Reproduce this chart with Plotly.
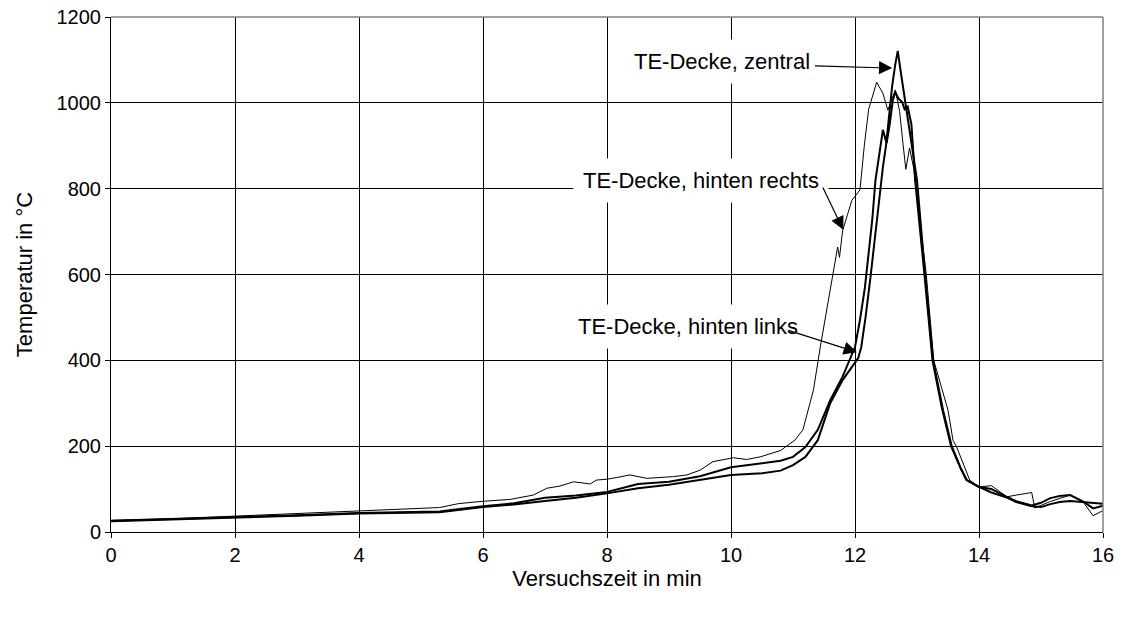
import plotly.graph_objects as go

# ---- data (time in min, temperature in °C) ----
t_zentral = [0, 1, 2, 3, 4, 5, 5.3, 6, 6.5, 7, 7.5, 8, 8.5, 9, 9.5, 10, 10.5, 10.8, 11.0, 11.2,
             11.4, 11.6, 11.8, 12.0, 12.05, 12.1, 12.17, 12.25, 12.33, 12.4, 12.45, 12.5, 12.55,
             12.6, 12.65, 12.69, 12.73, 12.8, 12.9, 13.0, 13.13, 13.26, 13.42, 13.56, 13.7, 13.8,
             14.0, 14.2, 14.45, 14.6, 14.85, 15.0, 15.15, 15.3, 15.47, 15.65, 15.84, 16.0]
y_zentral = [25, 29, 34, 38, 43, 45, 46, 58, 64, 72, 80, 90, 102, 110, 121, 133, 137, 143, 156, 175,
             214, 300, 354, 396, 405, 430, 500, 594, 700, 790, 850, 900, 975,
             1040, 1090, 1121, 1080, 1014, 920, 820, 600, 400, 284, 200, 150, 121,
             105, 92, 80, 70, 60, 58, 65, 70, 72, 70, 68, 66]

t_links = [0, 1, 2, 3, 4, 5, 5.3, 6, 6.5, 7, 7.5, 8, 8.5, 9, 9.5, 10, 10.5, 10.8, 11.0, 11.2,
           11.4, 11.6, 11.8, 12.0, 12.08, 12.16, 12.22, 12.28, 12.33, 12.4, 12.45, 12.51, 12.56,
           12.61, 12.65, 12.7, 12.76, 12.8, 12.85, 12.91, 12.97, 13.12, 13.25, 13.4, 13.55, 13.7,
           13.8, 14.0, 14.2, 14.45, 14.6, 14.85, 15.0, 15.15, 15.3, 15.47, 15.68, 15.84, 16.0]
y_links = [26, 30, 35, 39, 44, 47, 48, 60, 67, 80, 85, 93, 112, 117, 130, 151, 161, 166, 175, 198,
           238, 307, 362, 431, 494, 570, 650, 730, 820, 890, 937, 906, 950,
           1006, 1025, 1010, 1002, 985, 991, 950, 820, 600, 400, 290, 200, 150,
           121, 105, 100, 82, 72, 62, 68, 79, 84, 86, 71, 55, 61]

t_rechts = [0, 1, 2, 3, 4, 5, 5.3, 5.6, 5.95, 6.44, 6.81, 7.03, 7.24, 7.46, 7.73, 7.83, 8.0, 8.16,
            8.37, 8.64, 8.85, 9.07, 9.29, 9.5, 9.71, 10.04, 10.25, 10.47, 10.8, 11.03, 11.16, 11.33,
            11.44, 11.55, 11.65, 11.72, 11.75, 11.8, 11.88, 11.95, 12.08, 12.15, 12.22, 12.35,
            12.45, 12.53, 12.65, 12.72, 12.77, 12.82, 12.88, 12.95, 13.0, 13.15, 13.27, 13.5,
            13.58, 13.64, 13.85, 14.0, 14.2, 14.45, 14.6, 14.85, 14.9, 15.15, 15.47, 15.68,
            15.84, 16.0]
y_rechts = [27, 31, 37, 43, 50, 55, 57, 66, 71, 76, 86, 102, 107, 117, 112, 121, 123, 127,
            133, 125, 127, 129, 133, 144, 164, 173, 169, 175, 190, 214, 238, 331,
            431, 524, 610, 664, 640, 702, 740, 773, 797, 900, 985, 1048,
            1022, 983, 1030, 980, 910, 845, 895, 845, 780, 600, 400, 284,
            214, 198, 121, 105, 108, 82, 86, 92, 56, 71, 86, 70,
            38, 50]

x_ticks = [0, 2, 4, 6, 8, 10, 12, 14, 16]
y_ticks = [0, 200, 400, 600, 800, 1000, 1200]

label_zentral = "TE-Decke, zentral"
label_rechts = "TE-Decke, hinten rechts"
label_links = "TE-Decke, hinten links"

FONT = "Liberation Sans, Arial, sans-serif"

fig = go.Figure()
fig.add_trace(go.Scatter(x=t_rechts, y=y_rechts, mode="lines", name=label_rechts,
                         line=dict(color="black", width=1)))
fig.add_trace(go.Scatter(x=t_links, y=y_links, mode="lines", name=label_links,
                         line=dict(color="black", width=2)))
fig.add_trace(go.Scatter(x=t_zentral, y=y_zentral, mode="lines", name=label_zentral,
                         line=dict(color="black", width=2)))

axis_common = dict(showgrid=True, gridcolor="black", gridwidth=1, zeroline=False,
                   showline=True, linecolor="black", linewidth=1, automargin=False,
                   ticks="outside", ticklen=5, tickcolor="black",
                   ticklabeloverflow="allow",
                   tickfont=dict(family=FONT, size=20, color="black"))

fig.update_xaxes(range=[0, 16], tickvals=x_ticks, ticktext=[str(v) for v in x_ticks],
                 title=dict(text="Versuchszeit in min", standoff=5,
                            font=dict(family=FONT, size=22, color="black")),
                 **axis_common)
fig.update_yaxes(range=[0, 1200], tickvals=y_ticks, ticktext=[str(v) for v in y_ticks],
                 title=dict(text="Temperatur in °C", standoff=17,
                            font=dict(family=FONT, size=22, color="black")),
                 **axis_common)

# frame on top / right in grey
fig.add_shape(type="line", xref="paper", yref="paper", x0=0, x1=1, y0=1, y1=1,
              line=dict(color="#808080", width=1.5))
fig.add_shape(type="line", xref="paper", yref="paper", x0=1, x1=1, y0=0, y1=1,
              line=dict(color="#808080", width=1.5))

text_style = dict(showarrow=False, bgcolor="white", borderpad=9,
                  font=dict(family=FONT, size=22, color="black"))
annotations = [
    dict(x=9.85, y=1097, text=label_zentral, **text_style),
    dict(x=9.52, y=818, text=label_rechts, **text_style),
    dict(x=9.3, y=480, text=label_links, **text_style),
]
arrow_style = dict(text="", showarrow=True, axref="x", ayref="y", arrowhead=2,
                   arrowsize=2.2, arrowwidth=1.2, arrowcolor="black")
annotations += [
    dict(x=12.6, y=1081, ax=11.33, ay=1086, **arrow_style),
    dict(x=11.81, y=704, ax=11.47, ay=806, **arrow_style),
    dict(x=12.03, y=419, ax=10.9, ay=471, **arrow_style),
]

fig.update_layout(width=1125, height=621, margin=dict(l=111, r=22, t=17, b=89),
                  plot_bgcolor="white", paper_bgcolor="white", showlegend=False,
                  font=dict(family=FONT, color="black"),
                  annotations=annotations)

# remove the default page margin so the figure fills the window exactly
fig.write_html("out.html", config={"displayModeBar": False},
               post_script="document.body.style.margin='0';document.body.style.overflow='hidden';")
